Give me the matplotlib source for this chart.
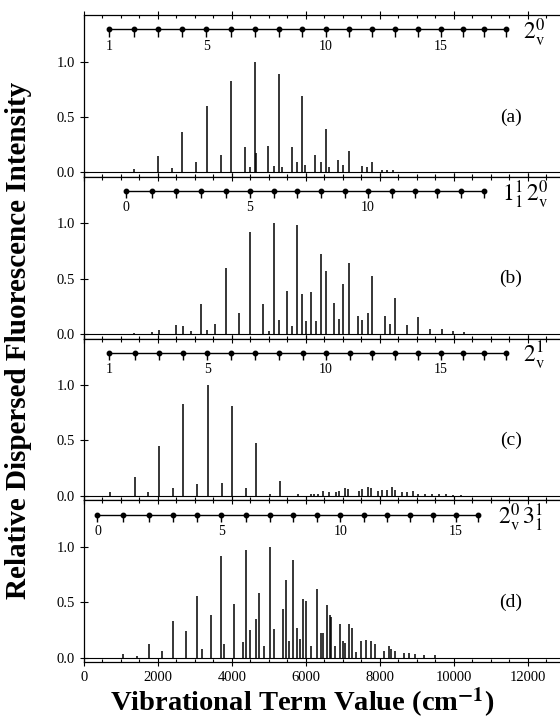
import matplotlib
matplotlib.use("Agg")
import matplotlib.pyplot as plt
from matplotlib.ticker import MultipleLocator

plt.rcParams['font.family'] = ['Liberation Serif', 'DejaVu Serif']
plt.rcParams['mathtext.fontset'] = 'stix'

# ---- panel (a): 2^0_v progression ----
posA = [1350, 1996, 2383, 2662, 3029, 3329, 3695, 3975, 4352, 4487, 4612, 4641,
        4979, 5124, 5259, 5356, 5617, 5771, 5906, 5983, 6244, 6418, 6533, 6611,
        6881, 7016, 7161, 7509, 7653, 7789, 8059, 8204, 8349]
intA = [0.03, 0.145, 0.04, 0.36, 0.09, 0.60, 0.155, 0.82, 0.23, 0.05, 1.0, 0.17,
        0.24, 0.06, 0.89, 0.05, 0.23, 0.09, 0.69, 0.07, 0.16, 0.09, 0.39, 0.05,
        0.11, 0.07, 0.19, 0.06, 0.05, 0.09, 0.02, 0.02, 0.02]
ladderA = [673, 1349, 1997, 2662, 3308, 3973, 4611, 5259, 5905, 6532, 7159, 7786,
           8416, 9024, 9641, 10249, 10827, 11405]
ladderLabA = {0: '1', 4: '5', 9: '10', 14: '15'}

# ---- panel (b): 1^1_1 2^0_v progression ----
posB = [1350, 1832, 2016, 2498, 2672, 2894, 3164, 3329, 3541, 3830, 4178, 4477,
        4835, 4989, 5134, 5259, 5481, 5626, 5771, 5896, 6012, 6128, 6273, 6408,
        6533, 6756, 6900, 7016, 7161, 7402, 7528, 7673, 7789, 8136, 8271, 8416,
        8734, 9024, 9362, 9680, 9989, 10279]
intB = [0.01, 0.02, 0.04, 0.08, 0.07, 0.03, 0.27, 0.04, 0.09, 0.60, 0.19, 0.92,
        0.27, 0.03, 1.0, 0.13, 0.39, 0.07, 0.98, 0.36, 0.12, 0.38, 0.12, 0.72,
        0.57, 0.28, 0.14, 0.45, 0.64, 0.16, 0.13, 0.19, 0.52, 0.16, 0.09, 0.33,
        0.08, 0.15, 0.05, 0.05, 0.03, 0.02]
ladderB = [1137, 1832, 2498, 3164, 3830, 4477, 5134, 5771, 6408, 7055, 7682, 8320,
           8937, 9555, 10182, 10810]
ladderLabB = {0: '0', 5: '5', 10: '10'}

# ---- panel (c): 2^1_v progression ----
posC = [693, 1369, 1736, 2025, 2402, 2682, 3068, 3348, 3734, 4004, 4371, 4641,
        5018, 5288, 5790, 6128, 6225, 6321, 6466, 6611, 6804, 6900, 7045, 7142,
        7431, 7528, 7673, 7769, 7962, 8059, 8204, 8320, 8416, 8590, 8734, 8898,
        9024, 9217, 9410, 9603, 9797, 9989, 10182]
intC = [0.03, 0.17, 0.03, 0.45, 0.07, 0.83, 0.11, 1.0, 0.12, 0.81, 0.07, 0.48,
        0.02, 0.13, 0.02, 0.02, 0.02, 0.02, 0.04, 0.03, 0.03, 0.04, 0.07, 0.06,
        0.04, 0.06, 0.08, 0.07, 0.04, 0.05, 0.05, 0.08, 0.05, 0.03, 0.03, 0.04,
        0.02, 0.02, 0.02, 0.015, 0.015, 0.01, 0.01]
ladderC = [673, 1369, 2025, 2682, 3329, 3984, 4631, 5269, 5915, 6543, 7180, 7798,
           8406, 9024, 9641, 10249, 10827, 11415]
ladderLabC = {0: '1', 4: '5', 9: '10', 14: '15'}

# ---- panel (d): 2^0_v 3^1_1 progression ----
posD = [1060, 1446, 1745, 2122, 2402, 2749, 3058, 3184, 3425, 3715, 3792, 4053,
        4294, 4371, 4487, 4651, 4719, 4873, 5018, 5143, 5375, 5452, 5549, 5655,
        5761, 5838, 5930, 6010, 6150, 6292, 6400, 6450, 6560, 6640, 6680, 6780,
        6920, 7000, 7050, 7160, 7240, 7350, 7490, 7620, 7760, 7870, 8100, 8250,
        8300, 8420, 8650, 8800, 8950, 9200, 9500]
intD = [0.03, 0.01, 0.12, 0.06, 0.33, 0.24, 0.56, 0.08, 0.38, 0.92, 0.12, 0.48,
        0.14, 0.97, 0.25, 0.35, 0.58, 0.10, 1.0, 0.26, 0.44, 0.70, 0.15, 0.88,
        0.27, 0.17, 0.53, 0.51, 0.10, 0.62, 0.22, 0.22, 0.47, 0.38, 0.37, 0.10,
        0.30, 0.15, 0.13, 0.30, 0.27, 0.05, 0.15, 0.16, 0.15, 0.12, 0.06, 0.10,
        0.08, 0.06, 0.04, 0.04, 0.03, 0.02, 0.02]
ladderD = [365, 1060, 1745, 2402, 3058, 3715, 4371, 5018, 5655, 6292, 6930, 7567,
           8194, 8812, 9430, 10047, 10646]
ladderLabD = {0: '0', 5: '5', 10: '10', 15: '15'}

panels = [
    (posA, intA, ladderA, ladderLabA, r'$2^{0}_{\mathrm{v}}$', 11880, '(a)'),
    (posB, intB, ladderB, ladderLabB, r'$1^{1}_{1}\,2^{0}_{\mathrm{v}}$', 11300, '(b)'),
    (posC, intC, ladderC, ladderLabC, r'$2^{1}_{\mathrm{v}}$', 11880, '(c)'),
    (posD, intD, ladderD, ladderLabD, r'$2^{0}_{\mathrm{v}}\,3^{1}_{1}$', 11200, '(d)'),
]

fig = plt.figure(figsize=(5.6, 7.22), dpi=100)
gs = fig.add_gridspec(4, 1, left=0.15, right=1.0, top=1 - 15 / 722,
                      bottom=1 - 662 / 722, hspace=0)

ladderY = 1.29
for i, (pos, inten, ladder, labs, prog, progX, tag) in enumerate(panels):
    ax = fig.add_subplot(gs[i])
    ax.vlines(pos, 0, inten, color='black', lw=1.1)
    ax.axhline(0, color='black', lw=0.8)

    # progression ladder
    ax.plot(ladder, [ladderY] * len(ladder), '-', color='black', lw=1.0,
            marker='o', ms=3.2)
    ax.vlines(ladder, ladderY - 0.065, ladderY, color='black', lw=1.0)
    for k, txt in labs.items():
        ax.text(ladder[k], ladderY - 0.15, txt, ha='center', va='center',
                fontsize=10)
    ax.text(progX, ladderY - 0.03, prog, ha='left', va='center', fontsize=17)
    ax.text(11540, 0.5, tag, ha='center', va='center', fontsize=14)

    ax.set_xlim(0, 12870)
    ax.set_ylim(-0.04, 1.42)
    ax.xaxis.set_major_locator(MultipleLocator(2000))
    ax.xaxis.set_minor_locator(MultipleLocator(500))
    ax.set_yticks([0, 0.5, 1.0])
    ax.set_yticklabels(['0.0', '0.5', '1.0'])
    ax.tick_params(axis='both', which='major', direction='inout', length=6,
                   width=0.8, top=True, labelsize=10.5)
    ax.tick_params(axis='x', which='minor', direction='in', length=2.5,
                   width=0.8, top=True)
    ax.spines['right'].set_visible(False)
    for s in ['left', 'top', 'bottom']:
        ax.spines[s].set_linewidth(0.9)
    if i < 3:
        ax.tick_params(axis='x', labelbottom=False)

fig.text(302 / 560, 1 - 703 / 722, r'Vibrational Term Value (cm$^{\mathbf{-1}}$)',
         ha='center', va='center', fontsize=20.5, fontweight='bold')
fig.text(19 / 560, 1 - 340 / 722, 'Relative Dispersed Fluorescence Intensity',
         ha='center', va='center', rotation=90, fontsize=21, fontweight='bold')

fig.savefig('out.png', dpi=100)
